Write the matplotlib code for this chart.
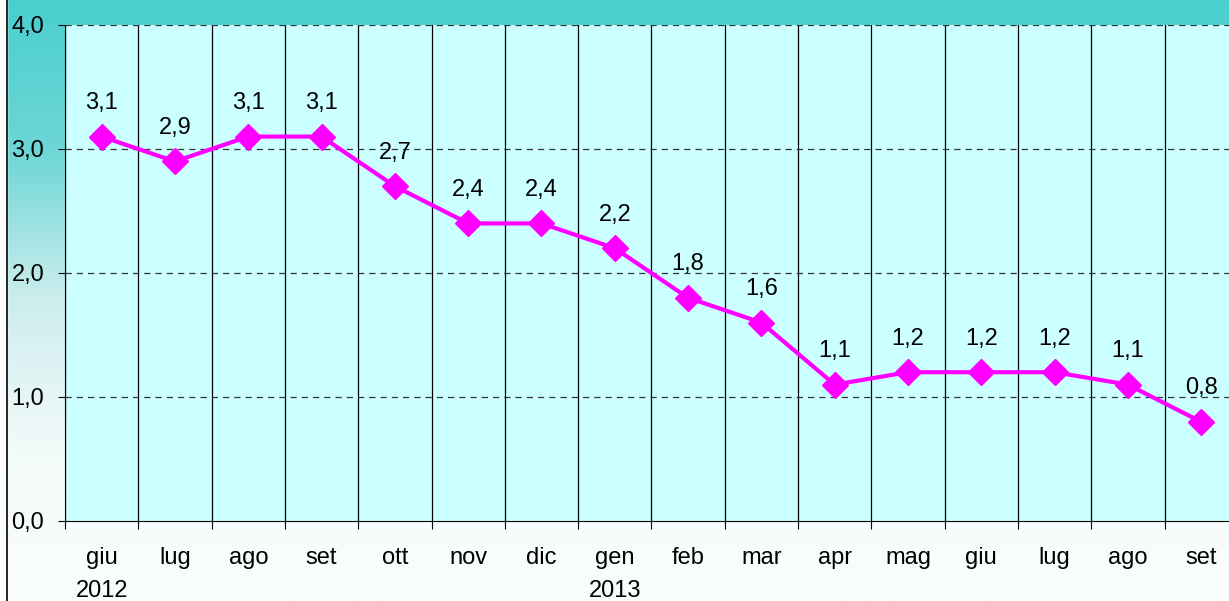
import matplotlib.pyplot as plt
import numpy as np
from matplotlib.colors import LinearSegmentedColormap

plt.rcParams["font.family"] = ["Liberation Sans", "DejaVu Sans"]

mesi = ["giu\n2012", "lug", "ago", "set", "ott", "nov", "dic", "gen\n2013",
        "feb", "mar", "apr", "mag", "giu", "lug", "ago", "set"]
valori = [3.1, 2.9, 3.1, 3.1, 2.7, 2.4, 2.4, 2.2, 1.8, 1.6, 1.1, 1.2, 1.2, 1.2, 1.1, 0.8]
yticks = [0, 1, 2, 3, 4]

fig = plt.figure(figsize=(12.29, 6.01), dpi=100)

# sfondo sfumato
bg = fig.add_axes([0, 0, 1, 1], zorder=0)
cmap = LinearSegmentedColormap.from_list("bg", ["#4ACFCF", "#6ED6D6", "#CDEDED", "#F3FAFA", "#FAFDFD"])
grad = np.linspace(0, 1, 300).reshape(-1, 1)
bg.imshow(grad, aspect="auto", cmap=cmap, extent=[0, 1, 0, 1], origin="upper")
bg.axvspan(0, 7 / 1229, color="white")
bg.axvline(7 / 1229, color="black", lw=1.2)
bg.set_xlim(0, 1)
bg.set_ylim(0, 1)
bg.axis("off")

left = 65 / 1229
width = 16 * 73.3 / 1229
bottom = (601 - 521) / 601
height = (521 - 25) / 601
ax = fig.add_axes([left, bottom, width, height], zorder=1)
ax.set_facecolor("#CCFFFF")

x = np.arange(len(valori))
ax.set_xlim(-0.5, len(valori) - 0.5)
ax.set_ylim(0, 4)

for b in np.arange(-0.5, len(valori), 1.0):
    ax.axvline(b, color="black", lw=0.9, zorder=1)
for yv in yticks[1:]:
    ax.axhline(yv, color="#333333", lw=0.9, ls=(0, (5, 4)), zorder=1)

ax.plot(x, valori, color="#FF00FF", lw=3, marker="D", markersize=13, zorder=3)
for xi, v in zip(x, valori):
    ax.annotate(f"{v:.1f}".replace(".", ","), (xi, v), xytext=(0, 24),
                textcoords="offset points", ha="center", va="center", fontsize=17)

ax.set_yticks(yticks)
ax.set_yticklabels([f"{t:.1f}".replace(".", ",") for t in yticks], fontsize=17)
ax.set_xticks(np.arange(-0.5, len(valori), 1.0))
ax.set_xticklabels([])
ax.set_xticks(x, minor=True)
ax.set_xticklabels(mesi, minor=True, fontsize=17, linespacing=1.6, va="top")
ax.tick_params(axis="x", which="minor", length=0, pad=19)
ax.tick_params(axis="x", which="major", length=6, direction="out")
ax.tick_params(axis="y", length=5, pad=10)

for s in ["top", "right"]:
    ax.spines[s].set_visible(False)

fig.savefig("out.png", dpi=100)
